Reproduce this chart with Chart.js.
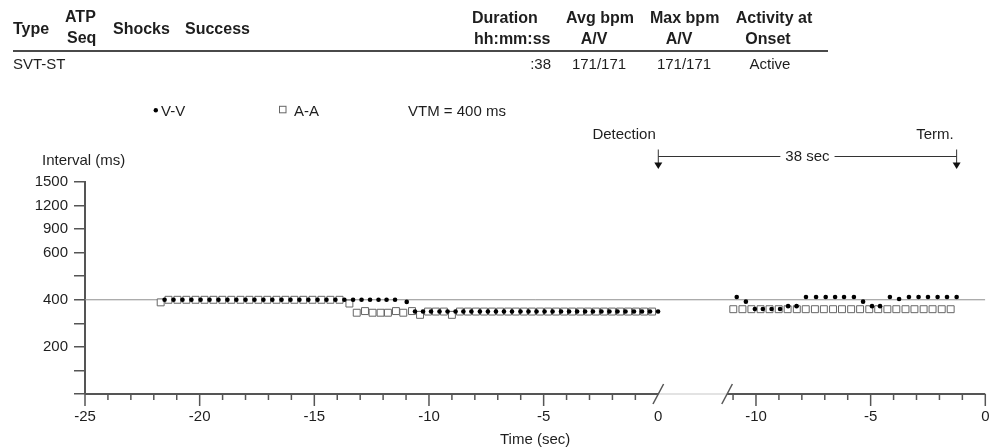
<!DOCTYPE html>
<html><head><meta charset="utf-8">
<script src="https://cdn.jsdelivr.net/npm/chart.js@4.4.1/dist/chart.umd.min.js"></script>
<style>
html,body{margin:0;padding:0;background:#fff;}
#wrap{position:relative;width:998px;height:448px;overflow:hidden;font-family:'Liberation Sans',Arial,Helvetica,sans-serif;color:#1e1e1e;}
#c{position:absolute;left:0;top:0;}
.t{position:absolute;white-space:nowrap;line-height:18px;font-size:15px;}
.b{font-weight:bold;font-size:16px;}
.c{transform:translateX(-50%);}
.r{transform:translateX(-100%);}
#rule{position:absolute;left:13px;top:49.7px;width:815px;height:2px;background:#4a4a4a;}
</style></head>
<body><div id="wrap">
<canvas id="c" width="998" height="448"></canvas>
<div class="t b" style="left:13px;top:20.2px">Type</div>
<div class="t b" style="left:65px;top:8.2px">ATP</div>
<div class="t b" style="left:67px;top:28.7px">Seq</div>
<div class="t b" style="left:113px;top:20.2px">Shocks</div>
<div class="t b" style="left:185px;top:20.2px">Success</div>
<div class="t b" style="left:472px;top:8.7px">Duration</div>
<div class="t b" style="left:474px;top:29.7px">hh:mm:ss</div>
<div class="t b c" style="left:600px;top:8.7px">Avg bpm</div>
<div class="t b c" style="left:594px;top:29.7px">A/V</div>
<div class="t b c" style="left:684.7px;top:8.7px">Max bpm</div>
<div class="t b c" style="left:679px;top:29.7px">A/V</div>
<div class="t b c" style="left:774px;top:8.7px">Activity at</div>
<div class="t b c" style="left:768px;top:29.7px">Onset</div>
<div id="rule"></div>
<div class="t" style="left:13px;top:55.4px">SVT-ST</div>
<div class="t r" style="left:551px;top:55.4px">:38</div>
<div class="t c" style="left:599px;top:55.4px">171/171</div>
<div class="t c" style="left:684px;top:55.4px">171/171</div>
<div class="t c" style="left:770px;top:55.4px">Active</div>
<div class="t" style="left:161px;top:101.7px">V-V</div>
<div class="t" style="left:294px;top:101.7px">A-A</div>
<div class="t" style="left:408px;top:101.7px">VTM = 400 ms</div>
</div>
<script>
// ---------- data (time in seconds, interval in ms) ----------
// Left panel: onset segment (time relative to detection)
const vvLeftTime = [-21.53,-21.14,-20.75,-20.36,-19.96,-19.57,-19.18,-18.79,-18.40,-18.00,-17.61,-17.22,-16.83,-16.43,-16.04,-15.65,-15.26,-14.86,-14.47,-14.08,-13.69,
  -13.31,-12.94,-12.57,-12.20,-11.85,-11.48,-10.97,
  -10.61,-10.26,-9.91,-9.54,-9.19,-8.84,-8.50,-8.15,-7.78,-7.43,-7.08,-6.73,-6.38,-6.01,-5.66,-5.31,-4.96,-4.61,-4.24,-3.89,-3.54,-3.19,-2.85,-2.48,-2.13,-1.78,-1.43,-1.06,-0.71,-0.36,-0.01];
const vvLeftMs = [400,400,400,400,400,400,400,400,400,400,400,400,400,400,400,400,400,400,400,400,400,
  400,400,400,400,400,400,391,
  350,350,350,350,350,350,350,350,350,350,350,350,350,350,350,350,350,350,350,350,350,350,350,350,350,350,350,350,350,350,350];
const aaLeftTime = [-21.70,-21.36,-20.97,-20.58,-20.18,-19.79,-19.40,-19.01,-18.62,-18.22,-17.83,-17.44,-17.05,-16.65,-16.26,-15.87,-15.48,-15.08,-14.69,-14.30,-13.90,
  -13.47,-13.15,-12.79,-12.46,-12.11,-11.79,-11.44,-11.12,-10.74,
  -10.39,-10.04,-9.70,-9.35,-9.00,-8.65,-8.30,-7.95,-7.60,-7.25,-6.90,-6.55,-6.21,-5.86,-5.51,-5.16,-4.81,-4.46,-4.11,-3.76,-3.41,-3.07,-2.72,-2.37,-2.02,-1.67,-1.32,-0.97,-0.62,-0.27];
const aaLeftMs = [389,400,400,400,400,400,400,400,400,400,400,400,400,400,400,400,400,400,400,400,400,
  384,345,352,345,345,345,352,345,352,
  336,350,350,350,336,350,350,350,350,350,350,350,350,350,350,350,350,350,350,350,350,350,350,350,350,350,350,350,350,350];
// Right panel: termination segment (time relative to termination)
const vvRightTime = [-10.84,-10.44,-10.05,-9.70,-9.32,-8.95,-8.60,-8.23,-7.82,-7.38,-6.96,-6.55,-6.16,-5.73,-5.33,-4.94,-4.59,-4.16,-3.76,-3.33,-2.91,-2.50,-2.08,-1.67,-1.25];
const vvRightMs = [412,392,361,361,361,361,373,373,412,412,412,412,412,412,392,373,373,412,403,412,412,412,412,412,412];
const aaRightTime = [-10.99,-10.59,-10.20,-9.80,-9.41,-9.01,-8.62,-8.22,-7.83,-7.43,-7.04,-6.64,-6.25,-5.85,-5.46,-5.06,-4.67,-4.27,-3.88,-3.48,-3.09,-2.69,-2.30,-1.90,-1.51];
const aaRightMs = [360,360,360,360,360,360,360,360,360,360,360,360,360,360,360,360,360,360,360,360,360,360,360,360,360];

const vtmMs = 400;
const detectionTime = 0;      // left panel
const termTime = -1.25;       // right panel
const durationLabel = '38 sec';

// axis ticks
const yTickValues = [0,100,200,300,400,500,600,900,1200,1500];
const yTickLabels = ['','','200','','400','','600','900','1200','1500'];
const xTicksLeft = [-25,-20,-15,-10,-5,0];
const xTicksRight = [-10,-5,0];
const leftStart = -25, rightStart = -11.26, gapWidth = 3.0;
const rightOffset = gapWidth - rightStart;

// ---------- helpers ----------
function yPos(ms){
  for (let i=0;i<yTickValues.length-1;i++){
    if (ms <= yTickValues[i+1]) return i + (ms - yTickValues[i])/(yTickValues[i+1]-yTickValues[i]);
  }
  return yTickValues.length-1;
}
const uL = t => t, uR = t => t + rightOffset;
function pts(times, vals, f){ return times.map((t,i)=>({x:f(t), y:yPos(vals[i])})); }

const vvData = pts(vvLeftTime, vvLeftMs, uL).concat(pts(vvRightTime, vvRightMs, uR));
const aaData = pts(aaLeftTime, aaLeftMs, uL).concat(pts(aaRightTime, aaRightMs, uR));
const xMax = uR(0);
const xTickPos = xTicksLeft.map(uL).concat(xTicksRight.map(uR));
const xTickText = xTicksLeft.map(String).concat(xTicksRight.map(String));

const FONT = "'Liberation Sans', Arial, Helvetica, sans-serif";
const TXT = '#1e1e1e', AXIS = '#555';
Chart.defaults.font.family = FONT;
Chart.defaults.font.size = 15;
Chart.defaults.color = TXT;

const decor = {
  id: 'decor',
  afterDraw(chart){
    const ctx = chart.ctx, xs = chart.scales.x, ca = chart.chartArea;
    const y0 = ca.bottom;
    ctx.save();
    // x axis line (with break)
    const b1 = xs.getPixelForValue(uL(0)), b2 = xs.getPixelForValue(uR(rightStart));
    ctx.lineWidth = 2;
    ctx.strokeStyle = '#e3e3e3';
    ctx.beginPath(); ctx.moveTo(b1, y0); ctx.lineTo(b2, y0); ctx.stroke();
    ctx.strokeStyle = AXIS;
    ctx.beginPath(); ctx.moveTo(ca.left, y0); ctx.lineTo(b1, y0); ctx.stroke();
    ctx.beginPath(); ctx.moveTo(b2, y0); ctx.lineTo(ca.right, y0); ctx.stroke();
    // ticks
    ctx.lineWidth = 1.5;
    const tick = (px, major) => { ctx.beginPath(); ctx.moveTo(px, y0); ctx.lineTo(px, y0 + (major ? 12 : 6)); ctx.stroke(); };
    for (let t = leftStart; t < 0; t++) tick(xs.getPixelForValue(uL(t)), t % 5 === 0);
    for (let t = Math.ceil(rightStart); t <= 0; t++) tick(xs.getPixelForValue(uR(t)), t % 5 === 0);
    // break slashes
    [b1, b2].forEach(cx => { ctx.beginPath(); ctx.moveTo(cx - 5.3, y0 + 10); ctx.lineTo(cx + 5.3, y0 - 10); ctx.stroke(); });
    // axis titles
    ctx.fillStyle = TXT; ctx.font = '15px ' + FONT; ctx.textBaseline = 'middle';
    ctx.textAlign = 'left'; ctx.fillText('Interval (ms)', 42, 161);
    ctx.textAlign = 'center'; ctx.fillText('Time (sec)', (ca.left + ca.right)/2, 440);
    // legend markers
    ctx.fillStyle = '#000'; ctx.beginPath(); ctx.arc(155.8, 110.3, 2.2, 0, Math.PI*2); ctx.fill();
    ctx.fillStyle = '#fff'; ctx.strokeStyle = '#666'; ctx.lineWidth = 1;
    ctx.fillRect(279.5, 106.3, 6.5, 6.5); ctx.strokeRect(279.5, 106.3, 6.5, 6.5);
    // detection / termination annotation
    const xd = xs.getPixelForValue(uL(detectionTime)), xt = xs.getPixelForValue(uR(termTime));
    ctx.fillStyle = TXT; ctx.textAlign = 'right';
    ctx.fillText('Detection', xd - 2.5, 134.5);
    ctx.fillText('Term.', xt - 3, 134.5);
    ctx.strokeStyle = '#333'; ctx.fillStyle = '#111'; ctx.lineWidth = 1;
    [xd, xt].forEach(x => {
      ctx.beginPath(); ctx.moveTo(x, 149.5); ctx.lineTo(x, 164); ctx.stroke();
      ctx.beginPath(); ctx.moveTo(x - 4, 162.5); ctx.lineTo(x + 4, 162.5); ctx.lineTo(x, 169); ctx.closePath(); ctx.fill();
    });
    const mid = (xd + xt)/2, w = ctx.measureText(durationLabel).width;
    ctx.beginPath(); ctx.moveTo(xd, 156.5); ctx.lineTo(mid - w/2 - 5, 156.5);
    ctx.moveTo(mid + w/2 + 5, 156.5); ctx.lineTo(xt, 156.5); ctx.stroke();
    ctx.textAlign = 'center'; ctx.fillStyle = TXT;
    ctx.fillText(durationLabel, mid, 157);
    ctx.restore();
  }
};

new Chart(document.getElementById('c').getContext('2d'), {
  type: 'scatter',
  data: { datasets: [
    { label: 'V-V', data: vvData, pointStyle: 'circle', pointRadius: 2.3, backgroundColor: '#000', borderWidth: 0, order: 1 },
    { label: 'A-A', data: aaData, pointStyle: 'rect', pointRadius: 4.9, backgroundColor: '#fff', borderColor: '#666', borderWidth: 1, order: 2 },
    { type: 'line', label: 'VTM', data: [{x: leftStart, y: yPos(vtmMs)}, {x: xMax, y: yPos(vtmMs)}], showLine: true,
      borderColor: '#8f8f8f', borderWidth: 1, pointRadius: 0, order: 3 }
  ]},
  options: {
    responsive: false, animation: false, devicePixelRatio: 1, events: [],
    layout: { padding: { top: 182, right: 12.7, bottom: 24, left: 0 } },
    plugins: { legend: { display: false }, tooltip: { enabled: false } },
    scales: {
      x: {
        type: 'linear', min: leftStart, max: xMax,
        grid: { display: true, drawOnChartArea: false, drawTicks: true, tickLength: 14, color: 'rgba(0,0,0,0)' },
        border: { display: false },
        afterBuildTicks: s => { s.ticks = xTickPos.map(v => ({ value: v })); },
        ticks: { autoSkip: false, maxRotation: 0, minRotation: 0, padding: 0, color: TXT, font: { size: 15 },
          callback: (v, i) => xTickText[i] },
        afterFit: s => { s.height = 30; }
      },
      y: {
        type: 'linear', min: 0, max: yTickValues.length - 1,
        afterBuildTicks: s => { s.ticks = yTickValues.map((v, i) => ({ value: i })); },
        ticks: { autoSkip: false, padding: 6, color: TXT, font: { size: 15 }, callback: (v, i) => yTickLabels[i] },
        grid: { drawOnChartArea: false, drawTicks: true, tickLength: 11, color: AXIS, lineWidth: 1.5 },
        border: { display: true, color: AXIS, width: 2 },
        afterFit: s => { s.width = 85; }
      }
    }
  },
  plugins: [decor]
});
</script>
</body></html>
